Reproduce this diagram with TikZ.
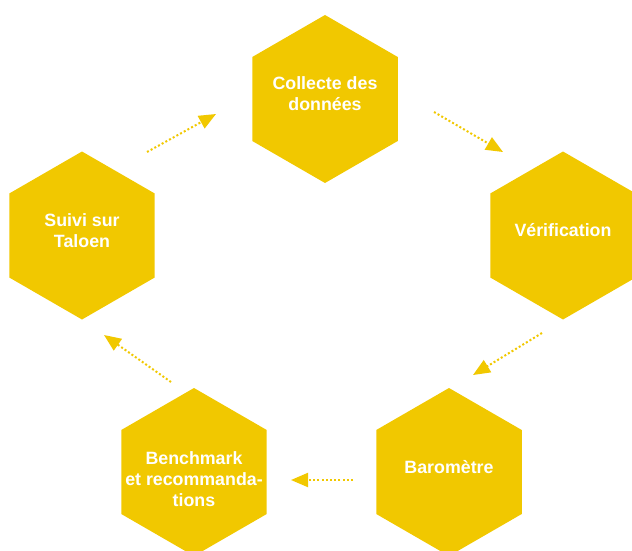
\documentclass[tikz,border=0pt]{standalone}
\usepackage{fontspec}
\setmainfont{Liberation Sans}
\usetikzlibrary{shapes.geometric,arrows.meta}

\definecolor{jaune}{RGB}{241,200,0}

\tikzset{
    hexa/.style={regular polygon, regular polygon sides=6, shape border rotate=90,
        minimum size=168pt, inner sep=0pt, outer sep=0pt, fill=jaune, draw=none},
    texte/.style={text=white, align=center, inner sep=0pt,
        font=\bfseries\fontsize{17.8}{21}\selectfont},
    fleche/.style={jaune, line width=2pt, dash pattern=on 2pt off 2.2pt,
        -{Triangle[length=17pt,width=14pt]}}
}

\begin{document}
\begin{tikzpicture}[x=1pt,y=-1pt]
            \useasboundingbox (0,0) rectangle (632,551);

            \node[hexa] (collecte) at (325,99) {};
            \node[hexa] (verif) at (563,235.5) {};
            \node[hexa] (barometre) at (449,472) {};
            \node[hexa] (benchmark) at (194,472) {};
            \node[hexa] (suivi) at (82,235.5) {};

            \node[texte, yshift=5pt] (collecte-t) at (collecte) {Collecte des\\données};
            \node[texte, yshift=5pt] (verif-t) at (verif) {Vérification};
            \node[texte, yshift=5pt] (barometre-t) at (barometre) {Baromètre};
            \node[texte, yshift=-7pt] (benchmark-t) at (benchmark) {Benchmark\\et recommanda-\\tions};
            \node[texte, yshift=5pt] (suivi-t) at (suivi) {Suivi sur\\Taloen};

            \coordinate (a1) at (147,152);
            \coordinate (b1) at (216,114);
            \coordinate (a2) at (434,112);
            \coordinate (b2) at (503,152);
            \coordinate (a3) at (542,333);
            \coordinate (b3) at (473,375);
            \coordinate (a4) at (353,480);
            \coordinate (b4) at (291,480);
            \coordinate (a5) at (171,382);
            \coordinate (b5) at (104,335);

            \draw[fleche] (a1)--(b1);
            \draw[fleche] (a2)--(b2);
            \draw[fleche] (a3)--(b3);
            \draw[fleche] (a4)--(b4);
            \draw[fleche] (a5)--(b5);
        \end{tikzpicture}
\end{document}
